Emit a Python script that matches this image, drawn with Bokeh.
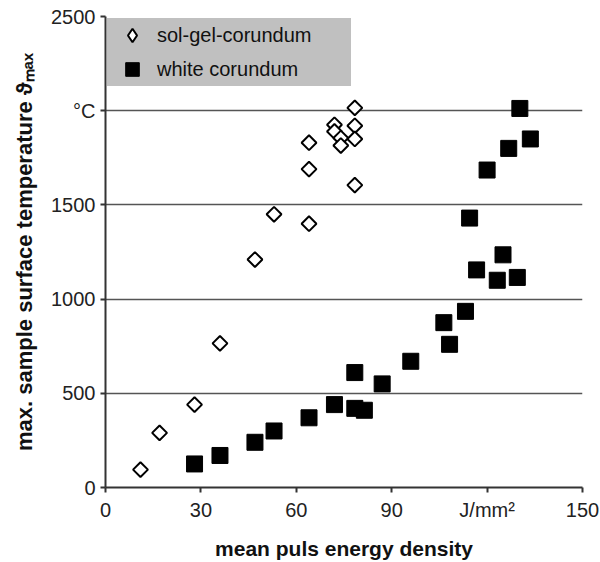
import math
from bokeh.plotting import figure
from bokeh.models import Range1d, FixedTicker, Legend, LegendItem
from bokeh.embed import file_html
from bokeh.resources import INLINE

# data
solgel_x = [11, 17, 28, 36, 47, 53, 64, 64, 64, 72, 72, 74, 74, 78.4, 78.4, 78.4, 78.4]
solgel_y = [95, 290, 440, 765, 1210, 1450, 1830, 1690, 1400, 1925, 1890, 1855, 1815, 2015, 1920, 1850, 1605]
white_x = [28, 36, 47, 53, 64, 72, 78.4, 78.4, 81.4, 87, 96, 106.4, 108.2, 113.2, 114.5, 116.7, 123.2,
           125, 129.5, 120, 126.8, 130.3, 133.6]
white_y = [125, 170, 240, 300, 370, 440, 610, 420, 410, 550, 670, 875, 760, 935, 1430, 1155, 1100,
           1235, 1115, 1685, 1800, 2012, 1850]
x_ticks = [0, 30, 60, 90, 120, 150]
x_tick_labels = {120: "J/mm²"}
y_ticks = [0, 500, 1000, 1500, 2000, 2500]
y_tick_labels = {2000: "°C"}

FONT = "Liberation Sans"

p = figure(width=600, height=562, output_backend="svg", toolbar_location=None,
           x_range=Range1d(0, 150), y_range=Range1d(0, 2500),
           min_border_left=105, min_border_right=18, min_border_top=16, min_border_bottom=73)
p.outline_line_color = None
p.background_fill_color = "white"
p.border_fill_color = "white"

p.xgrid.visible = False
p.ygrid.ticker = FixedTicker(ticks=y_ticks)
p.ygrid.grid_line_color = "#555555"
p.ygrid.grid_line_width = 1.5

for ax in (p.xaxis[0], p.yaxis[0]):
    ax.axis_line_color = "#333333"
    ax.axis_line_width = 2
    ax.major_tick_line_color = "#333333"
    ax.major_tick_line_width = 2
    ax.major_tick_out = 5
    ax.major_tick_in = 0
    ax.minor_tick_line_color = None
    ax.major_label_text_font = FONT
    ax.major_label_text_font_size = "20px"
    ax.major_label_text_color = "#222222"
    ax.axis_label_text_font = FONT
    ax.axis_label_text_font_style = "bold"
    ax.axis_label_text_color = "#111111"

p.xaxis.ticker = FixedTicker(ticks=x_ticks)
p.xaxis.major_label_overrides = x_tick_labels
p.xaxis.major_label_standoff = 6
p.xaxis.axis_label = "mean puls energy density"
p.xaxis.axis_label_text_font_size = "21px"
p.xaxis.axis_label_standoff = 13

p.yaxis.ticker = FixedTicker(ticks=y_ticks)
p.yaxis.major_label_overrides = y_tick_labels
p.yaxis.major_label_standoff = 5
p.yaxis.axis_label = "max. sample surface temperature ϑₘₐₓ"
p.yaxis.axis_label_text_font_size = "22px"
p.yaxis.axis_label_standoff = 11

# narrow diamond drawn underneath the rotated squares: it only supplies the legend symbol
r1_leg = p.scatter(solgel_x, solgel_y, marker="diamond", size=11,
                   fill_color="white", line_color="black", line_width=2)
r1 = p.scatter(solgel_x, solgel_y, marker="square", size=10.5, angle=math.pi / 4,
               fill_color="white", line_color="black", line_width=2)
r2 = p.scatter(white_x, white_y, marker="square", size=16,
               fill_color="black", line_color="black", line_width=1)

legend = Legend(items=[LegendItem(label="sol-gel-corundum", renderers=[r1_leg]),
                       LegendItem(label="white corundum", renderers=[r2])],
                location="top_left")
legend.background_fill_color = "#c0c0c0"
legend.background_fill_alpha = 1
legend.border_line_color = None
legend.margin = 2
legend.padding = 3
legend.glyph_width = 50
legend.glyph_height = 34
legend.label_height = 34
legend.label_width = 194
legend.spacing = 0
legend.label_standoff = 0
legend.label_text_font = FONT
legend.label_text_font_size = "20px"
legend.label_text_color = "#111111"
p.add_layout(legend)

open("out.html", "w").write(file_html(p, INLINE))
